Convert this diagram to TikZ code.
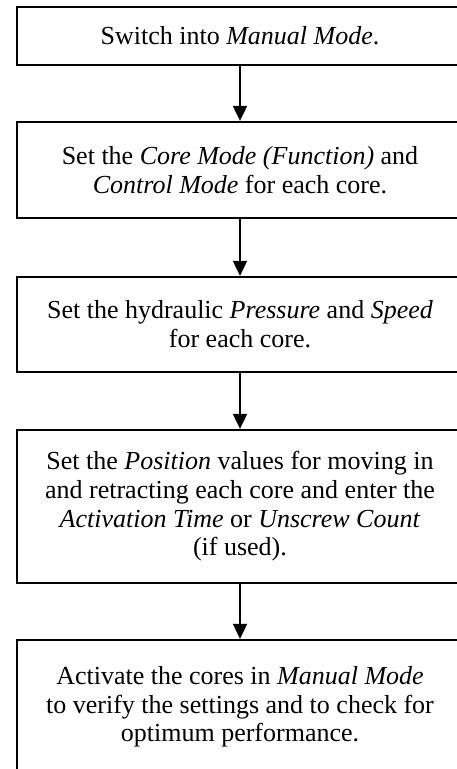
\documentclass[tikz,border=0pt]{standalone}
\usepackage{fontspec}
\setmainfont{Liberation Serif}
\usetikzlibrary{arrows.meta}

\tikzset{
	stepbox/.style={draw, line width=2.3pt, minimum width=446pt, align=center, inner sep=0pt, font=\fontsize{26}{28.7}\selectfont},
	flow/.style={line width=2pt, -{Triangle[length=15pt, width=14pt]}}
}

\begin{document}
\begin{tikzpicture}[x=1pt, y=-1pt]
		\useasboundingbox (0,0) rectangle (456,769);
		\node[stepbox, minimum height=58pt] (s1) at (240,36) {Switch into \textit{Manual Mode}.};
		\node[stepbox, minimum height=96pt] (s2) at (240,170) {Set the \textit{Core Mode (Function)} and\\ \textit{Control Mode} for each core.};
		\node[stepbox, minimum height=95pt] (s3) at (240,324.5) {Set the hydraulic \textit{Pressure} and \textit{Speed}\\ for each core.};
		\node[stepbox, minimum height=153pt] (s4) at (240,506.5) {Set the \textit{Position} values for moving in\\ and retracting each core and enter the\\ \textit{Activation Time} or \textit{Unscrew Count}\\ (if used).};
		\node[stepbox, minimum height=134pt] (s5) at (240,707) {Activate the cores in \textit{Manual Mode}\\ to verify the settings and to check for\\ optimum performance.};
		
		\draw[flow] (s1) -- (s2);
		\draw[flow] (s2) -- (s3);
		\draw[flow] (s3) -- (s4);
		\draw[flow] (s4) -- (s5);
		
	\end{tikzpicture}
\end{document}
